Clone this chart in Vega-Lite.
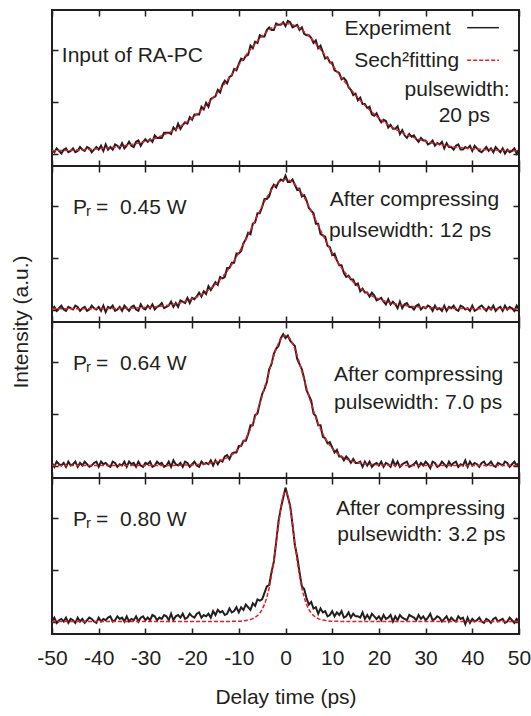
{
"$schema":"https://vega.github.io/schema/vega-lite/v6.json",
"padding":{"left":10,"top":9,"right":5,"bottom":5},
"bounds":"flush",
"background":"white",
"config":{"font":"Liberation Sans","view":{"stroke":"#231f20","strokeWidth":2},"axis":{"labelFont":"Liberation Sans","titleFont":"Liberation Sans"},"text":{"font":"Liberation Sans"}},
"data":{"values":[
{"p":1,"x":-50,"e":0.03},{"p":1,"x":-49.5,"e":0.01},{"p":1,"x":-49,"e":0.04},{"p":1,"x":-48.5,"e":0.02},{"p":1,"x":-48,"e":0},{"p":1,"x":-47.5,"e":0.03},{"p":1,"x":-47,"e":0.04},{"p":1,"x":-46.5,"e":0.01},{"p":1,"x":-46,"e":0.02},{"p":1,"x":-45.5,"e":0.04},
{"p":1,"x":-45,"e":0.01},{"p":1,"x":-44.5,"e":0.02},{"p":1,"x":-44,"e":0.05},{"p":1,"x":-43.5,"e":0.03},{"p":1,"x":-43,"e":0.02},{"p":1,"x":-42.5,"e":0.05},{"p":1,"x":-42,"e":0.04},{"p":1,"x":-41.5,"e":0.01},{"p":1,"x":-41,"e":0.03},{"p":1,"x":-40.5,"e":0.05},
{"p":1,"x":-40,"e":0.03},{"p":1,"x":-39.5,"e":0.06},{"p":1,"x":-39,"e":0.02},{"p":1,"x":-38.5,"e":0.07},{"p":1,"x":-38,"e":0.03},{"p":1,"x":-37.5,"e":0.05},{"p":1,"x":-37,"e":0.03},{"p":1,"x":-36.5,"e":0.07},{"p":1,"x":-36,"e":0.06},{"p":1,"x":-35.5,"e":0.04},
{"p":1,"x":-35,"e":0.08},{"p":1,"x":-34.5,"e":0.04},{"p":1,"x":-34,"e":0.06},{"p":1,"x":-33.5,"e":0.09},{"p":1,"x":-33,"e":0.06},{"p":1,"x":-32.5,"e":0.05},{"p":1,"x":-32,"e":0.09},{"p":1,"x":-31.5,"e":0.1},{"p":1,"x":-31,"e":0.06},{"p":1,"x":-30.5,"e":0.09},
{"p":1,"x":-30,"e":0.11},{"p":1,"x":-29.5,"e":0.09},{"p":1,"x":-29,"e":0.11},{"p":1,"x":-28.5,"e":0.09},{"p":1,"x":-28,"e":0.14},{"p":1,"x":-27.5,"e":0.12},{"p":1,"x":-27,"e":0.12},{"p":1,"x":-26.5,"e":0.12},{"p":1,"x":-26,"e":0.16},{"p":1,"x":-25.5,"e":0.16},
{"p":1,"x":-25,"e":0.16},{"p":1,"x":-24.5,"e":0.15},{"p":1,"x":-24,"e":0.2},{"p":1,"x":-23.5,"e":0.18},{"p":1,"x":-23,"e":0.23},{"p":1,"x":-22.5,"e":0.19},{"p":1,"x":-22,"e":0.22},{"p":1,"x":-21.5,"e":0.24},{"p":1,"x":-21,"e":0.23},{"p":1,"x":-20.5,"e":0.28},
{"p":1,"x":-20,"e":0.26},{"p":1,"x":-19.5,"e":0.3},{"p":1,"x":-19,"e":0.3},{"p":1,"x":-18.5,"e":0.3},{"p":1,"x":-18,"e":0.36},{"p":1,"x":-17.5,"e":0.34},{"p":1,"x":-17,"e":0.39},{"p":1,"x":-16.5,"e":0.36},{"p":1,"x":-16,"e":0.42},{"p":1,"x":-15.5,"e":0.43},
{"p":1,"x":-15,"e":0.44},{"p":1,"x":-14.5,"e":0.49},{"p":1,"x":-14,"e":0.47},{"p":1,"x":-13.5,"e":0.53},{"p":1,"x":-13,"e":0.56},{"p":1,"x":-12.5,"e":0.54},{"p":1,"x":-12,"e":0.59},{"p":1,"x":-11.5,"e":0.6},{"p":1,"x":-11,"e":0.65},{"p":1,"x":-10.5,"e":0.64},
{"p":1,"x":-10,"e":0.69},{"p":1,"x":-9.5,"e":0.73},{"p":1,"x":-9,"e":0.72},{"p":1,"x":-8.5,"e":0.75},{"p":1,"x":-8,"e":0.76},{"p":1,"x":-7.5,"e":0.83},{"p":1,"x":-7,"e":0.81},{"p":1,"x":-6.5,"e":0.86},{"p":1,"x":-6,"e":0.85},{"p":1,"x":-5.5,"e":0.91},
{"p":1,"x":-5,"e":0.9},{"p":1,"x":-4.5,"e":0.9},{"p":1,"x":-4,"e":0.95},{"p":1,"x":-3.5,"e":0.97},{"p":1,"x":-3,"e":0.95},{"p":1,"x":-2.5,"e":0.95},{"p":1,"x":-2,"e":1},{"p":1,"x":-1.5,"e":0.99},{"p":1,"x":-1,"e":0.99},{"p":1,"x":-0.5,"e":1.01},
{"p":1,"x":0,"e":0.98},
{"p":1,"x":0.5,"e":1.02},{"p":1,"x":1,"e":1.01},{"p":1,"x":1.5,"e":0.97},{"p":1,"x":2,"e":0.98},{"p":1,"x":2.5,"e":0.99},{"p":1,"x":3,"e":0.95},{"p":1,"x":3.5,"e":0.97},{"p":1,"x":4,"e":0.92},{"p":1,"x":4.5,"e":0.91},{"p":1,"x":5,"e":0.91},
{"p":1,"x":5.5,"e":0.89},{"p":1,"x":6,"e":0.85},{"p":1,"x":6.5,"e":0.87},{"p":1,"x":7,"e":0.81},{"p":1,"x":7.5,"e":0.83},{"p":1,"x":8,"e":0.78},{"p":1,"x":8.5,"e":0.73},{"p":1,"x":9,"e":0.74},{"p":1,"x":9.5,"e":0.7},{"p":1,"x":10,"e":0.7},
{"p":1,"x":10.5,"e":0.64},{"p":1,"x":11,"e":0.63},{"p":1,"x":11.5,"e":0.62},{"p":1,"x":12,"e":0.57},{"p":1,"x":12.5,"e":0.58},{"p":1,"x":13,"e":0.56},{"p":1,"x":13.5,"e":0.51},{"p":1,"x":14,"e":0.49},{"p":1,"x":14.5,"e":0.45},{"p":1,"x":15,"e":0.46},
{"p":1,"x":15.5,"e":0.41},{"p":1,"x":16,"e":0.43},{"p":1,"x":16.5,"e":0.38},{"p":1,"x":17,"e":0.38},{"p":1,"x":17.5,"e":0.35},{"p":1,"x":18,"e":0.36},{"p":1,"x":18.5,"e":0.3},{"p":1,"x":19,"e":0.29},{"p":1,"x":19.5,"e":0.31},{"p":1,"x":20,"e":0.27},
{"p":1,"x":20.5,"e":0.24},{"p":1,"x":21,"e":0.26},{"p":1,"x":21.5,"e":0.25},{"p":1,"x":22,"e":0.2},{"p":1,"x":22.5,"e":0.22},{"p":1,"x":23,"e":0.19},{"p":1,"x":23.5,"e":0.19},{"p":1,"x":24,"e":0.21},{"p":1,"x":24.5,"e":0.15},{"p":1,"x":25,"e":0.18},
{"p":1,"x":25.5,"e":0.14},{"p":1,"x":26,"e":0.12},{"p":1,"x":26.5,"e":0.15},{"p":1,"x":27,"e":0.13},{"p":1,"x":27.5,"e":0.14},{"p":1,"x":28,"e":0.11},{"p":1,"x":28.5,"e":0.09},{"p":1,"x":29,"e":0.12},{"p":1,"x":29.5,"e":0.1},{"p":1,"x":30,"e":0.1},
{"p":1,"x":30.5,"e":0.07},{"p":1,"x":31,"e":0.08},{"p":1,"x":31.5,"e":0.1},{"p":1,"x":32,"e":0.06},{"p":1,"x":32.5,"e":0.08},{"p":1,"x":33,"e":0.07},{"p":1,"x":33.5,"e":0.09},{"p":1,"x":34,"e":0.04},{"p":1,"x":34.5,"e":0.08},{"p":1,"x":35,"e":0.05},
{"p":1,"x":35.5,"e":0.05},{"p":1,"x":36,"e":0.03},{"p":1,"x":36.5,"e":0.06},{"p":1,"x":37,"e":0.07},{"p":1,"x":37.5,"e":0.03},{"p":1,"x":38,"e":0.03},{"p":1,"x":38.5,"e":0.05},{"p":1,"x":39,"e":0.04},{"p":1,"x":39.5,"e":0.06},{"p":1,"x":40,"e":0.02},
{"p":1,"x":40.5,"e":0.06},{"p":1,"x":41,"e":0.04},{"p":1,"x":41.5,"e":0.02},{"p":1,"x":42,"e":0.01},{"p":1,"x":42.5,"e":0.03},{"p":1,"x":43,"e":0.05},{"p":1,"x":43.5,"e":0.02},{"p":1,"x":44,"e":0.04},{"p":1,"x":44.5,"e":0.01},{"p":1,"x":45,"e":0.05},
{"p":1,"x":45.5,"e":0.03},{"p":1,"x":46,"e":0.01},{"p":1,"x":46.5,"e":0.04},{"p":1,"x":47,"e":0},{"p":1,"x":47.5,"e":0.03},{"p":1,"x":48,"e":0.01},{"p":1,"x":48.5,"e":0.02},{"p":1,"x":49,"e":0.04},{"p":1,"x":49.5,"e":0},{"p":1,"x":50,"e":0.03},
{"p":2,"x":-50,"e":0},{"p":2,"x":-49.5,"e":0.02},{"p":2,"x":-49,"e":-0.01},{"p":2,"x":-48.5,"e":0.01},{"p":2,"x":-48,"e":0.03},{"p":2,"x":-47.5,"e":0},{"p":2,"x":-47,"e":-0.01},{"p":2,"x":-46.5,"e":0.02},{"p":2,"x":-46,"e":0.01},{"p":2,"x":-45.5,"e":0},
{"p":2,"x":-45,"e":0.03},{"p":2,"x":-44.5,"e":0.02},{"p":2,"x":-44,"e":-0.01},{"p":2,"x":-43.5,"e":0.01},{"p":2,"x":-43,"e":0.02},{"p":2,"x":-42.5,"e":-0.01},{"p":2,"x":-42,"e":0},{"p":2,"x":-41.5,"e":0.03},{"p":2,"x":-41,"e":0.01},{"p":2,"x":-40.5,"e":0},
{"p":2,"x":-40,"e":0.02},{"p":2,"x":-39.5,"e":-0.01},{"p":2,"x":-39,"e":0.03},{"p":2,"x":-38.5,"e":-0.02},{"p":2,"x":-38,"e":0.02},{"p":2,"x":-37.5,"e":0.01},{"p":2,"x":-37,"e":0.03},{"p":2,"x":-36.5,"e":-0.01},{"p":2,"x":-36,"e":0},{"p":2,"x":-35.5,"e":0.02},
{"p":2,"x":-35,"e":-0.01},{"p":2,"x":-34.5,"e":0.03},{"p":2,"x":-34,"e":0.01},{"p":2,"x":-33.5,"e":-0.01},{"p":2,"x":-33,"e":0.02},{"p":2,"x":-32.5,"e":0.03},{"p":2,"x":-32,"e":0},{"p":2,"x":-31.5,"e":-0.01},{"p":2,"x":-31,"e":0.04},{"p":2,"x":-30.5,"e":0.01},
{"p":2,"x":-30,"e":0},{"p":2,"x":-29.5,"e":0.03},{"p":2,"x":-29,"e":0.01},{"p":2,"x":-28.5,"e":0.04},{"p":2,"x":-28,"e":0},{"p":2,"x":-27.5,"e":0.02},{"p":2,"x":-27,"e":0.03},{"p":2,"x":-26.5,"e":0.05},{"p":2,"x":-26,"e":0.01},{"p":2,"x":-25.5,"e":0.02},
{"p":2,"x":-25,"e":0.03},{"p":2,"x":-24.5,"e":0.06},{"p":2,"x":-24,"e":0.02},{"p":2,"x":-23.5,"e":0.05},{"p":2,"x":-23,"e":0.02},{"p":2,"x":-22.5,"e":0.07},{"p":2,"x":-22,"e":0.06},{"p":2,"x":-21.5,"e":0.05},{"p":2,"x":-21,"e":0.09},{"p":2,"x":-20.5,"e":0.05},
{"p":2,"x":-20,"e":0.09},{"p":2,"x":-19.5,"e":0.08},{"p":2,"x":-19,"e":0.1},{"p":2,"x":-18.5,"e":0.13},{"p":2,"x":-18,"e":0.1},{"p":2,"x":-17.5,"e":0.14},{"p":2,"x":-17,"e":0.12},{"p":2,"x":-16.5,"e":0.18},{"p":2,"x":-16,"e":0.15},{"p":2,"x":-15.5,"e":0.18},
{"p":2,"x":-15,"e":0.21},{"p":2,"x":-14.5,"e":0.19},{"p":2,"x":-14,"e":0.25},{"p":2,"x":-13.5,"e":0.24},{"p":2,"x":-13,"e":0.25},{"p":2,"x":-12.5,"e":0.32},{"p":2,"x":-12,"e":0.32},{"p":2,"x":-11.5,"e":0.36},{"p":2,"x":-11,"e":0.36},{"p":2,"x":-10.5,"e":0.43},
{"p":2,"x":-10,"e":0.43},{"p":2,"x":-9.5,"e":0.45},{"p":2,"x":-9,"e":0.51},{"p":2,"x":-8.5,"e":0.54},{"p":2,"x":-8,"e":0.59},{"p":2,"x":-7.5,"e":0.58},{"p":2,"x":-7,"e":0.66},{"p":2,"x":-6.5,"e":0.67},{"p":2,"x":-6,"e":0.74},{"p":2,"x":-5.5,"e":0.74},
{"p":2,"x":-5,"e":0.79},{"p":2,"x":-4.5,"e":0.85},{"p":2,"x":-4,"e":0.85},{"p":2,"x":-3.5,"e":0.87},{"p":2,"x":-3,"e":0.93},{"p":2,"x":-2.5,"e":0.96},{"p":2,"x":-2,"e":0.94},{"p":2,"x":-1.5,"e":0.98},{"p":2,"x":-1,"e":1},{"p":2,"x":-0.5,"e":0.99},
{"p":2,"x":0,"e":1.03},
{"p":2,"x":0.5,"e":0.98},{"p":2,"x":1,"e":0.98},{"p":2,"x":1.5,"e":1},{"p":2,"x":2,"e":0.96},{"p":2,"x":2.5,"e":0.92},{"p":2,"x":3,"e":0.93},{"p":2,"x":3.5,"e":0.87},{"p":2,"x":4,"e":0.88},{"p":2,"x":4.5,"e":0.84},{"p":2,"x":5,"e":0.78},
{"p":2,"x":5.5,"e":0.76},{"p":2,"x":6,"e":0.74},{"p":2,"x":6.5,"e":0.66},{"p":2,"x":7,"e":0.66},{"p":2,"x":7.5,"e":0.58},{"p":2,"x":8,"e":0.57},{"p":2,"x":8.5,"e":0.56},{"p":2,"x":9,"e":0.49},{"p":2,"x":9.5,"e":0.48},{"p":2,"x":10,"e":0.42},
{"p":2,"x":10.5,"e":0.43},{"p":2,"x":11,"e":0.38},{"p":2,"x":11.5,"e":0.34},{"p":2,"x":12,"e":0.34},{"p":2,"x":12.5,"e":0.28},{"p":2,"x":13,"e":0.25},{"p":2,"x":13.5,"e":0.26},{"p":2,"x":14,"e":0.23},{"p":2,"x":14.5,"e":0.23},{"p":2,"x":15,"e":0.19},
{"p":2,"x":15.5,"e":0.2},{"p":2,"x":16,"e":0.14},{"p":2,"x":16.5,"e":0.16},{"p":2,"x":17,"e":0.13},{"p":2,"x":17.5,"e":0.13},{"p":2,"x":18,"e":0.1},{"p":2,"x":18.5,"e":0.13},{"p":2,"x":19,"e":0.11},{"p":2,"x":19.5,"e":0.07},{"p":2,"x":20,"e":0.08},
{"p":2,"x":20.5,"e":0.09},{"p":2,"x":21,"e":0.06},{"p":2,"x":21.5,"e":0.04},{"p":2,"x":22,"e":0.08},{"p":2,"x":22.5,"e":0.04},{"p":2,"x":23,"e":0.06},{"p":2,"x":23.5,"e":0.04},{"p":2,"x":24,"e":0.01},{"p":2,"x":24.5,"e":0.06},{"p":2,"x":25,"e":0.01},
{"p":2,"x":25.5,"e":0.04},{"p":2,"x":26,"e":0.05},{"p":2,"x":26.5,"e":0.02},{"p":2,"x":27,"e":0.02},{"p":2,"x":27.5,"e":0},{"p":2,"x":28,"e":0.03},{"p":2,"x":28.5,"e":0.04},{"p":2,"x":29,"e":0},{"p":2,"x":29.5,"e":0.02},{"p":2,"x":30,"e":0.01},
{"p":2,"x":30.5,"e":0.03},{"p":2,"x":31,"e":0.02},{"p":2,"x":31.5,"e":-0.01},{"p":2,"x":32,"e":0.03},{"p":2,"x":32.5,"e":0},{"p":2,"x":33,"e":0.01},{"p":2,"x":33.5,"e":-0.01},{"p":2,"x":34,"e":0.03},{"p":2,"x":34.5,"e":-0.01},{"p":2,"x":35,"e":0.02},
{"p":2,"x":35.5,"e":0.01},{"p":2,"x":36,"e":0.03},{"p":2,"x":36.5,"e":0},{"p":2,"x":37,"e":-0.01},{"p":2,"x":37.5,"e":0.03},{"p":2,"x":38,"e":0.02},{"p":2,"x":38.5,"e":0},{"p":2,"x":39,"e":0.01},{"p":2,"x":39.5,"e":-0.01},{"p":2,"x":40,"e":0.03},
{"p":2,"x":40.5,"e":-0.01},{"p":2,"x":41,"e":0},{"p":2,"x":41.5,"e":0.02},{"p":2,"x":42,"e":0.03},{"p":2,"x":42.5,"e":0.01},{"p":2,"x":43,"e":-0.01},{"p":2,"x":43.5,"e":0.02},{"p":2,"x":44,"e":0},{"p":2,"x":44.5,"e":0.03},{"p":2,"x":45,"e":-0.01},
{"p":2,"x":45.5,"e":0.01},{"p":2,"x":46,"e":0.02},{"p":2,"x":46.5,"e":-0.01},{"p":2,"x":47,"e":0.03},{"p":2,"x":47.5,"e":0},{"p":2,"x":48,"e":0.02},{"p":2,"x":48.5,"e":0.01},{"p":2,"x":49,"e":-0.01},{"p":2,"x":49.5,"e":0.03},{"p":2,"x":50,"e":0},
{"p":3,"x":-50,"e":0.02},{"p":3,"x":-49.5,"e":-0.01},{"p":3,"x":-49,"e":0.03},{"p":3,"x":-48.5,"e":0.01},{"p":3,"x":-48,"e":0},{"p":3,"x":-47.5,"e":0.02},{"p":3,"x":-47,"e":-0.01},{"p":3,"x":-46.5,"e":0.03},{"p":3,"x":-46,"e":0},{"p":3,"x":-45.5,"e":0.01},
{"p":3,"x":-45,"e":0.03},{"p":3,"x":-44.5,"e":-0.01},{"p":3,"x":-44,"e":0.02},{"p":3,"x":-43.5,"e":0},{"p":3,"x":-43,"e":0.03},{"p":3,"x":-42.5,"e":0.01},{"p":3,"x":-42,"e":-0.01},{"p":3,"x":-41.5,"e":0},{"p":3,"x":-41,"e":0.02},{"p":3,"x":-40.5,"e":0.03},
{"p":3,"x":-40,"e":-0.01},{"p":3,"x":-39.5,"e":0.03},{"p":3,"x":-39,"e":0.01},{"p":3,"x":-38.5,"e":0.02},{"p":3,"x":-38,"e":0},{"p":3,"x":-37.5,"e":-0.01},{"p":3,"x":-37,"e":0.03},{"p":3,"x":-36.5,"e":0.02},{"p":3,"x":-36,"e":-0.01},{"p":3,"x":-35.5,"e":0.01},
{"p":3,"x":-35,"e":0},{"p":3,"x":-34.5,"e":0.03},{"p":3,"x":-34,"e":-0.01},{"p":3,"x":-33.5,"e":0.03},{"p":3,"x":-33,"e":0.01},{"p":3,"x":-32.5,"e":0.02},{"p":3,"x":-32,"e":-0.01},{"p":3,"x":-31.5,"e":0.03},{"p":3,"x":-31,"e":0},{"p":3,"x":-30.5,"e":-0.01},
{"p":3,"x":-30,"e":0.02},{"p":3,"x":-29.5,"e":0.01},{"p":3,"x":-29,"e":0.03},{"p":3,"x":-28.5,"e":-0.01},{"p":3,"x":-28,"e":0},{"p":3,"x":-27.5,"e":0.03},{"p":3,"x":-27,"e":0.01},{"p":3,"x":-26.5,"e":0.02},{"p":3,"x":-26,"e":-0.01},{"p":3,"x":-25.5,"e":0},
{"p":3,"x":-25,"e":0.03},{"p":3,"x":-24.5,"e":-0.01},{"p":3,"x":-24,"e":0.04},{"p":3,"x":-23.5,"e":0.01},{"p":3,"x":-23,"e":0},{"p":3,"x":-22.5,"e":0.02},{"p":3,"x":-22,"e":-0.01},{"p":3,"x":-21.5,"e":0.03},{"p":3,"x":-21,"e":0.02},{"p":3,"x":-20.5,"e":-0.01},
{"p":3,"x":-20,"e":0.01},{"p":3,"x":-19.5,"e":0.03},{"p":3,"x":-19,"e":0},{"p":3,"x":-18.5,"e":-0.01},{"p":3,"x":-18,"e":0.03},{"p":3,"x":-17.5,"e":0.01},{"p":3,"x":-17,"e":0.02},{"p":3,"x":-16.5,"e":0.01},{"p":3,"x":-16,"e":0.04},{"p":3,"x":-15.5,"e":0},
{"p":3,"x":-15,"e":0.04},{"p":3,"x":-14.5,"e":0.01},{"p":3,"x":-14,"e":0.04},{"p":3,"x":-13.5,"e":0.03},{"p":3,"x":-13,"e":0.07},{"p":3,"x":-12.5,"e":0.08},{"p":3,"x":-12,"e":0.05},{"p":3,"x":-11.5,"e":0.09},{"p":3,"x":-11,"e":0.1},{"p":3,"x":-10.5,"e":0.1},
{"p":3,"x":-10,"e":0.15},{"p":3,"x":-9.5,"e":0.15},{"p":3,"x":-9,"e":0.19},{"p":3,"x":-8.5,"e":0.19},{"p":3,"x":-8,"e":0.24},{"p":3,"x":-7.5,"e":0.31},{"p":3,"x":-7,"e":0.31},{"p":3,"x":-6.5,"e":0.39},{"p":3,"x":-6,"e":0.4},{"p":3,"x":-5.5,"e":0.48},
{"p":3,"x":-5,"e":0.55},{"p":3,"x":-4.5,"e":0.59},{"p":3,"x":-4,"e":0.64},{"p":3,"x":-3.5,"e":0.74},{"p":3,"x":-3,"e":0.78},{"p":3,"x":-2.5,"e":0.86},{"p":3,"x":-2,"e":0.9},{"p":3,"x":-1.5,"e":0.92},{"p":3,"x":-1,"e":0.98},{"p":3,"x":-0.5,"e":1.01},
{"p":3,"x":0,"e":0.98},
{"p":3,"x":0.5,"e":1},{"p":3,"x":1,"e":0.96},{"p":3,"x":1.5,"e":0.94},{"p":3,"x":2,"e":0.92},{"p":3,"x":2.5,"e":0.82},{"p":3,"x":3,"e":0.78},{"p":3,"x":3.5,"e":0.74},{"p":3,"x":4,"e":0.67},{"p":3,"x":4.5,"e":0.58},{"p":3,"x":5,"e":0.54},
{"p":3,"x":5.5,"e":0.5},{"p":3,"x":6,"e":0.4},{"p":3,"x":6.5,"e":0.38},{"p":3,"x":7,"e":0.31},{"p":3,"x":7.5,"e":0.31},{"p":3,"x":8,"e":0.22},{"p":3,"x":8.5,"e":0.21},{"p":3,"x":9,"e":0.17},{"p":3,"x":9.5,"e":0.18},{"p":3,"x":10,"e":0.14},
{"p":3,"x":10.5,"e":0.1},{"p":3,"x":11,"e":0.12},{"p":3,"x":11.5,"e":0.07},{"p":3,"x":12,"e":0.07},{"p":3,"x":12.5,"e":0.04},{"p":3,"x":13,"e":0.07},{"p":3,"x":13.5,"e":0.05},{"p":3,"x":14,"e":0.02},{"p":3,"x":14.5,"e":0.05},{"p":3,"x":15,"e":0.02},
{"p":3,"x":15.5,"e":0.02},{"p":3,"x":16,"e":0.03},{"p":3,"x":16.5,"e":-0.01},{"p":3,"x":17,"e":0.03},{"p":3,"x":17.5,"e":0},{"p":3,"x":18,"e":0.03},{"p":3,"x":18.5,"e":-0.01},{"p":3,"x":19,"e":0.01},{"p":3,"x":19.5,"e":0.02},{"p":3,"x":20,"e":0},
{"p":3,"x":20.5,"e":0.03},{"p":3,"x":21,"e":-0.01},{"p":3,"x":21.5,"e":0.02},{"p":3,"x":22,"e":0.01},{"p":3,"x":22.5,"e":-0.01},{"p":3,"x":23,"e":0.04},{"p":3,"x":23.5,"e":0},{"p":3,"x":24,"e":0.03},{"p":3,"x":24.5,"e":-0.01},{"p":3,"x":25,"e":0.01},
{"p":3,"x":25.5,"e":0.02},{"p":3,"x":26,"e":0.03},{"p":3,"x":26.5,"e":-0.01},{"p":3,"x":27,"e":0},{"p":3,"x":27.5,"e":0.01},{"p":3,"x":28,"e":0.03},{"p":3,"x":28.5,"e":-0.01},{"p":3,"x":29,"e":0.02},{"p":3,"x":29.5,"e":0},{"p":3,"x":30,"e":0.03},
{"p":3,"x":30.5,"e":0.01},{"p":3,"x":31,"e":-0.02},{"p":3,"x":31.5,"e":0.03},{"p":3,"x":32,"e":0.02},{"p":3,"x":32.5,"e":-0.01},{"p":3,"x":33,"e":0},{"p":3,"x":33.5,"e":0.03},{"p":3,"x":34,"e":0.01},{"p":3,"x":34.5,"e":-0.01},{"p":3,"x":35,"e":0.03},
{"p":3,"x":35.5,"e":0},{"p":3,"x":36,"e":0.02},{"p":3,"x":36.5,"e":0.03},{"p":3,"x":37,"e":-0.01},{"p":3,"x":37.5,"e":0.01},{"p":3,"x":38,"e":0},{"p":3,"x":38.5,"e":0.04},{"p":3,"x":39,"e":-0.01},{"p":3,"x":39.5,"e":0.03},{"p":3,"x":40,"e":0},
{"p":3,"x":40.5,"e":0.02},{"p":3,"x":41,"e":0.01},{"p":3,"x":41.5,"e":-0.01},{"p":3,"x":42,"e":0.02},{"p":3,"x":42.5,"e":0.03},{"p":3,"x":43,"e":0},{"p":3,"x":43.5,"e":0.01},{"p":3,"x":44,"e":0.03},{"p":3,"x":44.5,"e":0},{"p":3,"x":45,"e":-0.01},
{"p":3,"x":45.5,"e":0.02},{"p":3,"x":46,"e":0.01},{"p":3,"x":46.5,"e":0},{"p":3,"x":47,"e":0.03},{"p":3,"x":47.5,"e":0.02},{"p":3,"x":48,"e":-0.01},{"p":3,"x":48.5,"e":0.01},{"p":3,"x":49,"e":0.03},{"p":3,"x":49.5,"e":0},{"p":3,"x":50,"e":0.02},
{"p":4,"x":-50,"e":0},{"p":4,"x":-49.5,"e":0.03},{"p":4,"x":-49,"e":-0.01},{"p":4,"x":-48.5,"e":0.01},{"p":4,"x":-48,"e":0.02},{"p":4,"x":-47.5,"e":0},{"p":4,"x":-47,"e":0.03},{"p":4,"x":-46.5,"e":-0.01},{"p":4,"x":-46,"e":0.02},{"p":4,"x":-45.5,"e":0.01},
{"p":4,"x":-45,"e":-0.01},{"p":4,"x":-44.5,"e":0.03},{"p":4,"x":-44,"e":0},{"p":4,"x":-43.5,"e":0.02},{"p":4,"x":-43,"e":-0.01},{"p":4,"x":-42.5,"e":0.01},{"p":4,"x":-42,"e":0.03},{"p":4,"x":-41.5,"e":0.02},{"p":4,"x":-41,"e":0},{"p":4,"x":-40.5,"e":-0.01},
{"p":4,"x":-40,"e":0.03},{"p":4,"x":-39.5,"e":0},{"p":4,"x":-39,"e":0.02},{"p":4,"x":-38.5,"e":0.01},{"p":4,"x":-38,"e":0.03},{"p":4,"x":-37.5,"e":0.04},{"p":4,"x":-37,"e":0},{"p":4,"x":-36.5,"e":0.01},{"p":4,"x":-36,"e":0.04},{"p":4,"x":-35.5,"e":0.02},
{"p":4,"x":-35,"e":0.03},{"p":4,"x":-34.5,"e":0},{"p":4,"x":-34,"e":0.04},{"p":4,"x":-33.5,"e":0},{"p":4,"x":-33,"e":0.02},{"p":4,"x":-32.5,"e":0.01},{"p":4,"x":-32,"e":0.04},{"p":4,"x":-31.5,"e":0},{"p":4,"x":-31,"e":0.03},{"p":4,"x":-30.5,"e":0.04},
{"p":4,"x":-30,"e":0.01},{"p":4,"x":-29.5,"e":0.03},{"p":4,"x":-29,"e":0.01},{"p":4,"x":-28.5,"e":0.05},{"p":4,"x":-28,"e":0.04},{"p":4,"x":-27.5,"e":0.01},{"p":4,"x":-27,"e":0.03},{"p":4,"x":-26.5,"e":0.02},{"p":4,"x":-26,"e":0.05},{"p":4,"x":-25.5,"e":0.04},
{"p":4,"x":-25,"e":0.01},{"p":4,"x":-24.5,"e":0.06},{"p":4,"x":-24,"e":0.01},{"p":4,"x":-23.5,"e":0.04},{"p":4,"x":-23,"e":0.05},{"p":4,"x":-22.5,"e":0.03},{"p":4,"x":-22,"e":0.06},{"p":4,"x":-21.5,"e":0.02},{"p":4,"x":-21,"e":0.03},{"p":4,"x":-20.5,"e":0.06},
{"p":4,"x":-20,"e":0.04},{"p":4,"x":-19.5,"e":0.03},{"p":4,"x":-19,"e":0.06},{"p":4,"x":-18.5,"e":0.07},{"p":4,"x":-18,"e":0.03},{"p":4,"x":-17.5,"e":0.05},{"p":4,"x":-17,"e":0.04},{"p":4,"x":-16.5,"e":0.06},{"p":4,"x":-16,"e":0.03},{"p":4,"x":-15.5,"e":0.08},
{"p":4,"x":-15,"e":0.05},{"p":4,"x":-14.5,"e":0.09},{"p":4,"x":-14,"e":0.07},{"p":4,"x":-13.5,"e":0.08},{"p":4,"x":-13,"e":0.05},{"p":4,"x":-12.5,"e":0.06},{"p":4,"x":-12,"e":0.1},{"p":4,"x":-11.5,"e":0.07},{"p":4,"x":-11,"e":0.08},{"p":4,"x":-10.5,"e":0.11},
{"p":4,"x":-10,"e":0.07},{"p":4,"x":-9.5,"e":0.11},{"p":4,"x":-9,"e":0.09},{"p":4,"x":-8.5,"e":0.13},{"p":4,"x":-8,"e":0.11},{"p":4,"x":-7.5,"e":0.09},{"p":4,"x":-7,"e":0.14},{"p":4,"x":-6.5,"e":0.12},{"p":4,"x":-6,"e":0.17},{"p":4,"x":-5.5,"e":0.16},
{"p":4,"x":-5,"e":0.17},{"p":4,"x":-4.5,"e":0.22},{"p":4,"x":-4,"e":0.27},{"p":4,"x":-3.5,"e":0.28},{"p":4,"x":-3,"e":0.38},{"p":4,"x":-2.5,"e":0.46},{"p":4,"x":-2,"e":0.61},{"p":4,"x":-1.5,"e":0.77},{"p":4,"x":-1,"e":0.87},{"p":4,"x":-0.5,"e":0.95},
{"p":4,"x":0,"e":1.03},
{"p":4,"x":0.5,"e":0.96},{"p":4,"x":1,"e":0.89},{"p":4,"x":1.5,"e":0.75},{"p":4,"x":2,"e":0.59},{"p":4,"x":2.5,"e":0.5},{"p":4,"x":3,"e":0.38},{"p":4,"x":3.5,"e":0.27},{"p":4,"x":4,"e":0.25},{"p":4,"x":4.5,"e":0.18},{"p":4,"x":5,"e":0.13},
{"p":4,"x":5.5,"e":0.15},{"p":4,"x":6,"e":0.1},{"p":4,"x":6.5,"e":0.11},{"p":4,"x":7,"e":0.06},{"p":4,"x":7.5,"e":0.1},{"p":4,"x":8,"e":0.07},{"p":4,"x":8.5,"e":0.08},{"p":4,"x":9,"e":0.04},{"p":4,"x":9.5,"e":0.05},{"p":4,"x":10,"e":0.08},
{"p":4,"x":10.5,"e":0.04},{"p":4,"x":11,"e":0.07},{"p":4,"x":11.5,"e":0.05},{"p":4,"x":12,"e":0.08},{"p":4,"x":12.5,"e":0.03},{"p":4,"x":13,"e":0.04},{"p":4,"x":13.5,"e":0.07},{"p":4,"x":14,"e":0.03},{"p":4,"x":14.5,"e":0.06},{"p":4,"x":15,"e":0.04},
{"p":4,"x":15.5,"e":0.04},{"p":4,"x":16,"e":0.03},{"p":4,"x":16.5,"e":0.07},{"p":4,"x":17,"e":0.02},{"p":4,"x":17.5,"e":0.05},{"p":4,"x":18,"e":0.02},{"p":4,"x":18.5,"e":0.06},{"p":4,"x":19,"e":0.04},{"p":4,"x":19.5,"e":0.02},{"p":4,"x":20,"e":0.04},
{"p":4,"x":20.5,"e":0.01},{"p":4,"x":21,"e":0.05},{"p":4,"x":21.5,"e":0.02},{"p":4,"x":22,"e":0.03},{"p":4,"x":22.5,"e":0.05},{"p":4,"x":23,"e":0},{"p":4,"x":23.5,"e":0.04},{"p":4,"x":24,"e":0.01},{"p":4,"x":24.5,"e":0.05},{"p":4,"x":25,"e":0.03},
{"p":4,"x":25.5,"e":0.02},{"p":4,"x":26,"e":0.01},{"p":4,"x":26.5,"e":0.05},{"p":4,"x":27,"e":0.04},{"p":4,"x":27.5,"e":0.03},{"p":4,"x":28,"e":0.01},{"p":4,"x":28.5,"e":0.05},{"p":4,"x":29,"e":0.02},{"p":4,"x":29.5,"e":0.04},{"p":4,"x":30,"e":0.01},
{"p":4,"x":30.5,"e":0.03},{"p":4,"x":31,"e":0.06},{"p":4,"x":31.5,"e":0.01},{"p":4,"x":32,"e":0.02},{"p":4,"x":32.5,"e":0.04},{"p":4,"x":33,"e":0.03},{"p":4,"x":33.5,"e":0},{"p":4,"x":34,"e":0.02},{"p":4,"x":34.5,"e":0.04},{"p":4,"x":35,"e":0},
{"p":4,"x":35.5,"e":0.03},{"p":4,"x":36,"e":0.01},{"p":4,"x":36.5,"e":0},{"p":4,"x":37,"e":0.04},{"p":4,"x":37.5,"e":0.02},{"p":4,"x":38,"e":0.03},{"p":4,"x":38.5,"e":-0.02},{"p":4,"x":39,"e":0.03},{"p":4,"x":39.5,"e":-0.01},{"p":4,"x":40,"e":0.02},
{"p":4,"x":40.5,"e":0},{"p":4,"x":41,"e":0.01},{"p":4,"x":41.5,"e":0.03},{"p":4,"x":42,"e":0},{"p":4,"x":42.5,"e":-0.01},{"p":4,"x":43,"e":0.02},{"p":4,"x":43.5,"e":0.01},{"p":4,"x":44,"e":-0.01},{"p":4,"x":44.5,"e":0.02},{"p":4,"x":45,"e":0.03},
{"p":4,"x":45.5,"e":0},{"p":4,"x":46,"e":0.01},{"p":4,"x":46.5,"e":0.02},{"p":4,"x":47,"e":-0.01},{"p":4,"x":47.5,"e":0},{"p":4,"x":48,"e":0.03},{"p":4,"x":48.5,"e":0.01},{"p":4,"x":49,"e":-0.01},{"p":4,"x":49.5,"e":0.02},{"p":4,"x":50,"e":0},
{"p":1,"x":-50,"f":0.021},{"p":1,"x":-48,"f":0.023},{"p":1,"x":-46,"f":0.025},{"p":1,"x":-44,"f":0.028},{"p":1,"x":-42,"f":0.032},{"p":1,"x":-40,"f":0.037},{"p":1,"x":-38,"f":0.044},{"p":1,"x":-36,"f":0.052},{"p":1,"x":-34,"f":0.063},{"p":1,"x":-32,"f":0.076},{"p":1,"x":-30,"f":0.094},{"p":1,"x":-28,"f":0.116},{"p":1,"x":-26,"f":0.144},{"p":1,"x":-24,"f":0.178},{"p":1,"x":-22,"f":0.221},{"p":1,"x":-20,"f":0.273},{"p":1,"x":-18,"f":0.335},{"p":1,"x":-16,"f":0.409},{"p":1,"x":-14,"f":0.493},{"p":1,"x":-12,"f":0.585},{"p":1,"x":-10,"f":0.682},{"p":1,"x":-8,"f":0.778},{"p":1,"x":-6,"f":0.866},{"p":1,"x":-4,"f":0.937},{"p":1,"x":-2,"f":0.984},{"p":1,"x":0,"f":1},
{"p":1,"x":2,"f":0.984},{"p":1,"x":4,"f":0.937},{"p":1,"x":6,"f":0.866},{"p":1,"x":8,"f":0.778},{"p":1,"x":10,"f":0.682},{"p":1,"x":12,"f":0.585},{"p":1,"x":14,"f":0.493},{"p":1,"x":16,"f":0.409},{"p":1,"x":18,"f":0.335},{"p":1,"x":20,"f":0.273},{"p":1,"x":22,"f":0.221},{"p":1,"x":24,"f":0.178},{"p":1,"x":26,"f":0.144},{"p":1,"x":28,"f":0.116},{"p":1,"x":30,"f":0.094},{"p":1,"x":32,"f":0.076},{"p":1,"x":34,"f":0.063},{"p":1,"x":36,"f":0.052},{"p":1,"x":38,"f":0.044},{"p":1,"x":40,"f":0.037},{"p":1,"x":42,"f":0.032},{"p":1,"x":44,"f":0.028},{"p":1,"x":46,"f":0.025},{"p":1,"x":48,"f":0.023},{"p":1,"x":50,"f":0.021},
{"p":2,"x":-50,"f":0.005},{"p":2,"x":-48,"f":0.005},{"p":2,"x":-46,"f":0.005},{"p":2,"x":-44,"f":0.005},{"p":2,"x":-42,"f":0.006},{"p":2,"x":-40,"f":0.007},{"p":2,"x":-38,"f":0.007},{"p":2,"x":-36,"f":0.008},{"p":2,"x":-34,"f":0.01},{"p":2,"x":-32,"f":0.012},{"p":2,"x":-30,"f":0.016},{"p":2,"x":-28,"f":0.021},{"p":2,"x":-26,"f":0.029},{"p":2,"x":-24,"f":0.04},{"p":2,"x":-22,"f":0.057},{"p":2,"x":-20,"f":0.081},{"p":2,"x":-18,"f":0.115},{"p":2,"x":-16,"f":0.164},{"p":2,"x":-14,"f":0.231},{"p":2,"x":-12,"f":0.321},{"p":2,"x":-10,"f":0.436},{"p":2,"x":-8,"f":0.573},{"p":2,"x":-6,"f":0.722},{"p":2,"x":-4,"f":0.862},{"p":2,"x":-2,"f":0.963},{"p":2,"x":0,"f":1},
{"p":2,"x":2,"f":0.963},{"p":2,"x":4,"f":0.862},{"p":2,"x":6,"f":0.722},{"p":2,"x":8,"f":0.573},{"p":2,"x":10,"f":0.436},{"p":2,"x":12,"f":0.321},{"p":2,"x":14,"f":0.231},{"p":2,"x":16,"f":0.164},{"p":2,"x":18,"f":0.115},{"p":2,"x":20,"f":0.081},{"p":2,"x":22,"f":0.057},{"p":2,"x":24,"f":0.04},{"p":2,"x":26,"f":0.029},{"p":2,"x":28,"f":0.021},{"p":2,"x":30,"f":0.016},{"p":2,"x":32,"f":0.012},{"p":2,"x":34,"f":0.01},{"p":2,"x":36,"f":0.008},{"p":2,"x":38,"f":0.007},{"p":2,"x":40,"f":0.007},{"p":2,"x":42,"f":0.006},{"p":2,"x":44,"f":0.005},{"p":2,"x":46,"f":0.005},{"p":2,"x":48,"f":0.005},{"p":2,"x":50,"f":0.005},
{"p":3,"x":-50,"f":0},{"p":3,"x":-46,"f":0},{"p":3,"x":-42,"f":0},{"p":3,"x":-38,"f":0},{"p":3,"x":-34,"f":0},{"p":3,"x":-30,"f":0},{"p":3,"x":-26,"f":0.001},{"p":3,"x":-24,"f":0.001},{"p":3,"x":-22,"f":0.003},{"p":3,"x":-20,"f":0.005},{"p":3,"x":-19,"f":0.007},{"p":3,"x":-18,"f":0.01},{"p":3,"x":-17,"f":0.014},{"p":3,"x":-16,"f":0.019},{"p":3,"x":-15,"f":0.027},{"p":3,"x":-14,"f":0.037},{"p":3,"x":-13,"f":0.051},{"p":3,"x":-12,"f":0.071},{"p":3,"x":-11,"f":0.097},{"p":3,"x":-10,"f":0.133},{"p":3,"x":-9,"f":0.181},{"p":3,"x":-8,"f":0.243},{"p":3,"x":-7,"f":0.322},{"p":3,"x":-6,"f":0.42},{"p":3,"x":-5,"f":0.535},{"p":3,"x":-4,"f":0.66},{"p":3,"x":-3,"f":0.787},{"p":3,"x":-2,"f":0.897},{"p":3,"x":-1,"f":0.973},{"p":3,"x":0,"f":1},
{"p":3,"x":1,"f":0.973},{"p":3,"x":2,"f":0.897},{"p":3,"x":3,"f":0.787},{"p":3,"x":4,"f":0.66},{"p":3,"x":5,"f":0.535},{"p":3,"x":6,"f":0.42},{"p":3,"x":7,"f":0.322},{"p":3,"x":8,"f":0.243},{"p":3,"x":9,"f":0.181},{"p":3,"x":10,"f":0.133},{"p":3,"x":11,"f":0.097},{"p":3,"x":12,"f":0.071},{"p":3,"x":13,"f":0.051},{"p":3,"x":14,"f":0.037},{"p":3,"x":15,"f":0.027},{"p":3,"x":16,"f":0.019},{"p":3,"x":17,"f":0.014},{"p":3,"x":18,"f":0.01},{"p":3,"x":19,"f":0.007},{"p":3,"x":20,"f":0.005},{"p":3,"x":22,"f":0.003},{"p":3,"x":24,"f":0.001},{"p":3,"x":26,"f":0.001},{"p":3,"x":30,"f":0},{"p":3,"x":34,"f":0},{"p":3,"x":38,"f":0},{"p":3,"x":42,"f":0},{"p":3,"x":46,"f":0},{"p":3,"x":50,"f":0},
{"p":4,"x":-50,"f":0},{"p":4,"x":-40,"f":0},{"p":4,"x":-30,"f":0},{"p":4,"x":-20,"f":0},{"p":4,"x":-14,"f":0},{"p":4,"x":-12,"f":0.001},{"p":4,"x":-10,"f":0.002},{"p":4,"x":-9,"f":0.005},{"p":4,"x":-8,"f":0.011},{"p":4,"x":-7.5,"f":0.015},{"p":4,"x":-7,"f":0.022},{"p":4,"x":-6.5,"f":0.032},{"p":4,"x":-6,"f":0.046},{"p":4,"x":-5.5,"f":0.066},{"p":4,"x":-5,"f":0.094},{"p":4,"x":-4.5,"f":0.133},{"p":4,"x":-4,"f":0.187},{"p":4,"x":-3.5,"f":0.259},{"p":4,"x":-3,"f":0.353},{"p":4,"x":-2.5,"f":0.469},{"p":4,"x":-2,"f":0.604},{"p":4,"x":-1.5,"f":0.745},{"p":4,"x":-1,"f":0.874},{"p":4,"x":-0.5,"f":0.967},{"p":4,"x":0,"f":1},
{"p":4,"x":0.5,"f":0.967},{"p":4,"x":1,"f":0.874},{"p":4,"x":1.5,"f":0.745},{"p":4,"x":2,"f":0.604},{"p":4,"x":2.5,"f":0.469},{"p":4,"x":3,"f":0.353},{"p":4,"x":3.5,"f":0.259},{"p":4,"x":4,"f":0.187},{"p":4,"x":4.5,"f":0.133},{"p":4,"x":5,"f":0.094},{"p":4,"x":5.5,"f":0.066},{"p":4,"x":6,"f":0.046},{"p":4,"x":6.5,"f":0.032},{"p":4,"x":7,"f":0.022},{"p":4,"x":7.5,"f":0.015},{"p":4,"x":8,"f":0.011},{"p":4,"x":9,"f":0.005},{"p":4,"x":10,"f":0.002},{"p":4,"x":12,"f":0.001},{"p":4,"x":14,"f":0},{"p":4,"x":20,"f":0},{"p":4,"x":30,"f":0},{"p":4,"x":40,"f":0},{"p":4,"x":50,"f":0},
{"p":1,"k":"in","t":"Input of RA-PC"},
{"p":1,"k":"ex","t":"Experiment"},
{"p":1,"k":"se","t":"Sech²fitting"},
{"p":1,"k":"pw","t":"pulsewidth:"},
{"p":1,"k":"ps","t":"20 ps"},
{"p":2,"k":"v","t":"=\u00a0\u00a00.45 W"},
{"p":3,"k":"v","t":"=\u00a0\u00a00.64 W"},
{"p":4,"k":"v","t":"=\u00a0\u00a00.80 W"},
{"p":2,"k":"a2","t":"After compressing"},
{"p":2,"k":"b2","t":"pulsewidth: 12 ps"},
{"p":3,"k":"a3","t":"After compressing"},
{"p":3,"k":"b3","t":"pulsewidth: 7.0 ps"},
{"p":4,"k":"a4","t":"After compressing"},
{"p":4,"k":"b4","t":"pulsewidth: 3.2 ps"}
]},
"facet":{"row":{"field":"p","type":"ordinal","title":"Intensity (a.u.)","header":{"labels":false,"titleFontSize":21,"titleFontWeight":"normal","titleColor":"#231f20","titleFont":"Liberation Sans","titlePadding":10}}},
"spacing":0,
"spec":{
"width":467,"height":156,
"layer":[
{"transform":[{"filter":"isValid(datum.e)"}],
 "mark":{"type":"line","color":"#231f20","strokeWidth":2,"clip":true},
 "encoding":{
  "x":{"field":"x","type":"quantitative","scale":{"domain":[-50,50],"nice":false,"zero":false},
   "axis":{"values":[-50,-40,-30,-20,-10,0,10,20,30,40,50],"labelExpr":"datum.value + ''","title":"Delay time (ps)","grid":true,"gridColor":"#231f20","gridWidth":1.5,"gridDash":[6,144],"gridOpacity":1,"ticks":false,"domain":false,"labelFontSize":21,"labelColor":"#231f20","labelPadding":13,"labelFlush":false,"labelOverlap":false,"titleFontSize":21,"titleFontWeight":"normal","titleColor":"#231f20","titlePadding":18}},
  "y":{"field":"e","type":"quantitative","scale":{"domain":[-0.096,1.104],"nice":false,"zero":false},
   "axis":{"values":[0,0.2,0.4,0.6,0.8,1],"labels":false,"ticks":false,"domain":false,"title":null,"grid":true,"gridColor":"#231f20","gridWidth":1.5,"gridDash":[6,455],"gridOpacity":1}}
 }},
{"transform":[{"filter":"isValid(datum.f)"}],
 "mark":{"type":"line","color":"#ed1c24","strokeWidth":1.5,"strokeDash":[4,2],"interpolate":"monotone","clip":true},
 "encoding":{"x":{"field":"x","type":"quantitative"},"y":{"field":"f","type":"quantitative"}}},
{"transform":[{"filter":"datum.k=='in'"}],"mark":{"type":"text","align":"left","baseline":"alphabetic","fontSize":21,"color":"#231f20"},
 "encoding":{"x":{"datum":-47.9},"y":{"datum":0.702},"text":{"field":"t"}}},
{"transform":[{"filter":"datum.k=='ex'"}],"mark":{"type":"text","align":"right","baseline":"alphabetic","fontSize":21,"color":"#231f20"},
 "encoding":{"x":{"datum":35.4},"y":{"datum":0.91},"text":{"field":"t"}}},
{"transform":[{"filter":"datum.k=='se'"}],"mark":{"type":"text","align":"right","baseline":"alphabetic","fontSize":21,"color":"#231f20"},
 "encoding":{"x":{"datum":37.2},"y":{"datum":0.667},"text":{"field":"t"}}},
{"transform":[{"filter":"datum.k=='pw'"}],"mark":{"type":"text","align":"right","baseline":"alphabetic","fontSize":21,"color":"#231f20"},
 "encoding":{"x":{"datum":48.0},"y":{"datum":0.442},"text":{"field":"t"}}},
{"transform":[{"filter":"datum.k=='ps'"}],"mark":{"type":"text","align":"center","baseline":"alphabetic","fontSize":21,"color":"#231f20"},
 "encoding":{"x":{"datum":38.3},"y":{"datum":0.242},"text":{"field":"t"}}},
{"transform":[{"filter":"datum.k=='in'"}],"mark":{"type":"rule","color":"#231f20","strokeWidth":1.5},
 "encoding":{"x":{"datum":38.9},"x2":{"datum":45.7},"y":{"datum":0.968}}},
{"transform":[{"filter":"datum.k=='in'"}],"mark":{"type":"rule","color":"#ed1c24","strokeWidth":1.5,"strokeDash":[4,2]},
 "encoding":{"x":{"datum":38.9},"x2":{"datum":45.7},"y":{"datum":0.717}}},
{"transform":[{"filter":"datum.k=='v'"}],"mark":{"type":"text","align":"left","baseline":"alphabetic","fontSize":21,"color":"#231f20","text":"P"},
 "encoding":{"x":{"datum":-45.5},"y":{"datum":0.732}}},
{"transform":[{"filter":"datum.k=='v'"}],"mark":{"type":"text","align":"left","baseline":"alphabetic","fontSize":15,"color":"#231f20","text":"r","dx":13,"dy":2},
 "encoding":{"x":{"datum":-45.5},"y":{"datum":0.732}}},
{"transform":[{"filter":"datum.k=='v'"}],"mark":{"type":"text","align":"left","baseline":"alphabetic","fontSize":21,"color":"#231f20","dx":23},
 "encoding":{"x":{"datum":-45.5},"y":{"datum":0.732},"text":{"field":"t"}}},
{"transform":[{"filter":"datum.k=='a2'"}],"mark":{"type":"text","align":"left","baseline":"alphabetic","fontSize":21,"color":"#231f20"},
 "encoding":{"x":{"datum":9.5},"y":{"datum":0.796},"text":{"field":"t"}}},
{"transform":[{"filter":"datum.k=='b2'"}],"mark":{"type":"text","align":"left","baseline":"alphabetic","fontSize":21,"color":"#231f20"},
 "encoding":{"x":{"datum":9.3},"y":{"datum":0.558},"text":{"field":"t"}}},
{"transform":[{"filter":"datum.k=='a3'"}],"mark":{"type":"text","align":"left","baseline":"alphabetic","fontSize":21,"color":"#231f20"},
 "encoding":{"x":{"datum":10.4},"y":{"datum":0.651},"text":{"field":"t"}}},
{"transform":[{"filter":"datum.k=='b3'"}],"mark":{"type":"text","align":"left","baseline":"alphabetic","fontSize":21,"color":"#231f20"},
 "encoding":{"x":{"datum":10.4},"y":{"datum":0.436},"text":{"field":"t"}}},
{"transform":[{"filter":"datum.k=='a4'"}],"mark":{"type":"text","align":"left","baseline":"alphabetic","fontSize":21,"color":"#231f20"},
 "encoding":{"x":{"datum":10.8},"y":{"datum":0.817},"text":{"field":"t"}}},
{"transform":[{"filter":"datum.k=='b4'"}],"mark":{"type":"text","align":"left","baseline":"alphabetic","fontSize":21,"color":"#231f20"},
 "encoding":{"x":{"datum":11.1},"y":{"datum":0.617},"text":{"field":"t"}}}
]}
}
